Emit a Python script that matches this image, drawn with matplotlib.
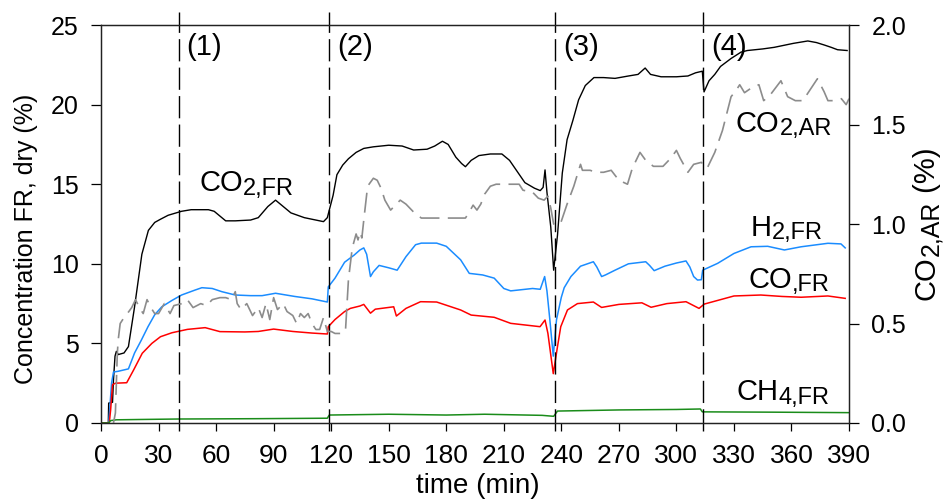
import matplotlib
matplotlib.use('Agg')
import matplotlib.pyplot as plt
from matplotlib.transforms import IdentityTransform

plt.rcParams['font.family'] = ['Liberation Sans', 'DejaVu Sans']

# time (min) and values
co2_fr_t = [0, 3.8, 4, 6, 6.5, 7.3, 8, 9, 12, 14.3, 17.5, 21.3, 24.7, 28, 31, 35, 42, 47, 56, 59, 62, 65,
            70, 78, 82, 87, 91, 94, 99, 106, 112, 116, 118, 119.5, 121, 123, 126, 129, 133, 137, 142, 150,
            157, 163, 170, 174, 178, 181, 185, 188, 190, 193, 197, 203, 209, 213, 217, 221, 226, 229, 230.5,
            231.5, 232.5, 234.5, 236, 238, 240.5, 243, 246, 249, 252.5, 257, 262, 268, 275, 280, 283.7,
            286.5, 292, 300, 306, 310, 313.5, 314.4, 317, 320, 323, 328.5, 333.7, 337, 345, 351, 361,
            368.5, 373, 377, 380.7, 384, 389]
co2_fr = [0, 0, 1.25, 1.3, 2.7, 4.2, 4.5, 4.3, 4.4, 4.8, 7.3, 10.6, 12.1, 12.6, 12.8, 13.05, 13.3, 13.4, 13.4,
          13.3, 13.0, 12.7, 12.7, 12.75, 12.9, 13.6, 14.0, 13.7, 13.2, 12.9, 12.75, 12.65, 12.9, 13.6, 14.3,
          15.6, 16.2, 16.6, 17.0, 17.25, 17.35, 17.45, 17.4, 17.15, 17.2, 17.4, 17.7, 17.5, 16.7, 16.3, 16.1,
          16.5, 16.8, 16.9, 16.9, 16.5, 15.8, 15.1, 14.75, 14.6, 14.8, 15.9, 14.5, 12.3, 9.6, 11.8, 15.7,
          17.8, 19.0, 20.3, 21.2, 21.7, 21.7, 21.65, 21.8, 21.9, 22.3, 21.9, 21.75, 21.75, 21.8, 22.0, 22.1,
          20.8, 21.5, 21.9, 22.4, 22.9, 23.3, 23.4, 23.5, 23.6, 23.85, 24.0, 23.9, 23.75, 23.6, 23.45, 23.4]

h2_fr_t = [0, 4, 4.5, 5.5, 6.5, 9, 14.3, 17.5, 21, 24.5, 28, 31.7, 37, 42, 49, 52.6, 58, 63, 70, 78, 84, 91,
           101, 110, 118, 118.5, 122, 127, 132, 135, 137, 138.5, 140.5, 142, 145, 150, 154.4, 159, 164, 167,
           175, 180, 187.5, 192, 199, 205, 210, 213.6, 225, 229, 231.3, 232.5, 234, 235.8, 237.5, 240,
           241.5, 245, 250, 256.7, 258.5, 261, 263, 268, 275, 284, 286, 288.4, 294, 300, 305, 307, 309, 311,
           313, 313.7, 321.5, 330, 338.9, 347.6, 356.3, 365, 379, 385.8, 388]
h2_fr = [0, 0, 0.8, 2.5, 3.2, 3.25, 3.4, 4.4, 5.2, 6.05, 6.8, 7.3, 7.7, 8.04, 8.35, 8.5, 8.45, 8.25, 8.04, 8.0,
         8.0, 8.15, 7.95, 7.8, 7.6, 8.55, 9.1, 10.1, 10.55, 10.87, 11.0, 10.6, 9.2, 9.5, 9.9, 9.75, 9.6, 10.45,
         11.2, 11.3, 11.3, 11.1, 10.25, 9.4, 9.3, 9.1, 8.45, 8.3, 8.45, 8.4, 9.2, 8.3, 6.5, 4.2, 6.5, 7.9,
         8.5, 9.2, 9.85, 10.13, 9.8, 9.2, 9.3, 9.6, 10.0, 10.13, 9.9, 9.57, 9.85, 10.05, 10.18, 9.8, 9.2,
         8.98, 9.0, 9.6, 10.03, 10.65, 11.07, 11.1, 10.87, 11.07, 11.29, 11.25, 11.0]

co_fr_t = [0, 4.3, 5, 6, 7.5, 13.4, 17, 21.5, 26.5, 31, 37, 45, 54.3, 62, 75, 82, 90, 100, 110, 118, 118.5,
           122, 127, 130, 135, 137, 140.5, 143, 152.6, 154, 159, 166.6, 175, 187.5, 193, 205, 213.6, 228.9,
           231.5, 233, 235.8, 238, 239.7, 243.2, 248.4, 256.7, 261, 270, 282, 286.8, 295, 305, 311.8, 314.5,
           321.5, 330, 344, 355, 365, 379, 388]
co_fr = [0, 0, 0.8, 2.4, 2.5, 2.53, 3.33, 4.38, 5.0, 5.42, 5.67, 5.88, 5.99, 5.74, 5.72, 5.75, 5.9, 5.75, 5.65,
         5.59, 6.05, 6.5, 7.0, 7.2, 7.35, 7.45, 6.9, 7.15, 7.3, 6.72, 7.2, 7.62, 7.6, 7.1, 6.78, 6.64, 6.26,
         6.05, 6.47, 5.63, 3.1, 4.8, 6.05, 7.1, 7.5, 7.6, 7.26, 7.45, 7.55, 7.27, 7.5, 7.62, 7.2, 7.47, 7.7,
         7.98, 8.04, 7.95, 7.9, 7.98, 7.83]

ch4_fr_t = [0, 4, 5, 8, 20, 40, 80, 118, 119, 150, 180, 200, 230, 236, 238, 270, 300, 312.5, 313.5, 350, 390]
ch4_fr = [0, 0, 0.15, 0.2, 0.22, 0.25, 0.27, 0.3, 0.5, 0.55, 0.5, 0.55, 0.48, 0.42, 0.75, 0.82, 0.85, 0.88,
          0.7, 0.68, 0.65]

co2_ar_t = [6.5, 7.5, 8.5, 9, 10, 12, 14.5, 16, 18, 20, 22, 24, 26, 28, 30, 33, 36, 38, 42, 45, 48, 52, 55,
            58, 62, 65, 68, 70, 71, 73, 76, 79, 82, 84, 86, 88, 90, 92, 95, 97, 100, 102, 104, 106, 108, 110,
            112, 114, 116, 118, 120, 122, 126, 127.5, 129, 131, 133, 134, 135, 136, 137, 139, 142, 144, 146,
            148, 151, 153, 156, 159, 163, 167, 175, 190, 192, 194, 196, 198, 200, 203, 206, 218, 220, 225,
            228, 231, 233, 234.5, 236, 239.5, 243, 246.5, 250, 251, 255, 258, 262, 266, 270, 274.5, 277,
            281, 284, 288, 293, 297, 300, 302, 306, 309, 313, 316, 320, 324, 328.5, 331, 333, 335.5, 340,
            343, 345.5, 349, 354.5, 358, 362, 366, 368, 373.5, 377, 379, 383, 386, 388.5, 390]
co2_ar = [0.0, 0.05, 0.35, 0.42, 0.5, 0.53, 0.56, 0.58, 0.62, 0.58, 0.55, 0.62, 0.58, 0.55, 0.55, 0.6, 0.55,
          0.59, 0.6, 0.62, 0.58, 0.6, 0.59, 0.62, 0.63, 0.63, 0.62, 0.66, 0.6, 0.57, 0.6, 0.54, 0.58, 0.53,
          0.6, 0.52, 0.63, 0.57, 0.6, 0.56, 0.54, 0.5, 0.55, 0.53, 0.55, 0.5, 0.47, 0.47, 0.53, 0.46, 0.46,
          0.45, 0.45, 0.47, 0.72, 0.88, 0.95, 0.92, 0.96, 0.93, 1.02, 1.19, 1.23, 1.22, 1.18, 1.12, 1.07, 1.09,
          1.12, 1.1, 1.06, 1.03, 1.03, 1.03, 1.06, 1.095, 1.07, 1.1, 1.15, 1.19, 1.2, 1.2, 1.17, 1.16, 1.13,
          1.12, 1.14, 1.08, 1.0, 1.0, 1.1, 1.19, 1.3, 1.27, 1.27, 1.26, 1.26, 1.27, 1.22, 1.2, 1.28, 1.36,
          1.32, 1.29, 1.29, 1.33, 1.37, 1.33, 1.26, 1.3, 1.31, 1.28, 1.36, 1.47, 1.64, 1.67, 1.7, 1.66, 1.69,
          1.7, 1.62, 1.65, 1.72, 1.64, 1.62, 1.62, 1.65, 1.73, 1.665, 1.62, 1.62, 1.63, 1.6, 1.63]

phase_starts = [40.7, 118.9, 236.6, 314.0]
phase_names = ['(1)', '(2)', '(3)', '(4)']
phase_label_t = [44.4, 123.0, 241.1, 318.0]

x_ticks = list(range(0, 391, 30))
y_ticks = [0, 5, 10, 15, 20, 25]
y2_ticks = [0.0, 0.5, 1.0, 1.5, 2.0]

fig = plt.figure(figsize=(9.44, 5.01), dpi=100)
ax = fig.add_axes([0.107, 0.1557, 0.7924, 0.7943])
ax2 = ax.twinx()

ax.plot(co2_fr_t, co2_fr, color='black', lw=1.0)
ax.plot(h2_fr_t, h2_fr, color='#1a8cff', lw=1.1)
ax.plot(co_fr_t, co_fr, color='#ff0000', lw=1.1)
ax.plot(ch4_fr_t, ch4_fr, color='#1a8c1a', lw=1.1)
ax2.plot(co2_ar_t, co2_ar, color='#8c8c8c', lw=1.2, dashes=(12, 5))

for t in phase_starts:
    ax.axvline(t, ymin=-0.02, ymax=1.033, clip_on=False, color='black', lw=1.0, dashes=(16, 4.5))
for t, name in zip(phase_label_t, phase_names):
    ax.text(t, 23.1, name, fontsize=21, va='baseline', ha='left')

ax.set_xlim(0, 390)
ax.set_ylim(0, 25)
ax2.set_ylim(0, 2.0)
ax.set_xticks(x_ticks)
ax.set_yticks(y_ticks)
ax2.set_yticks(y2_ticks)
ax2.set_yticklabels(['%.1f' % v for v in y2_ticks])

for a in (ax, ax2):
    for s in a.spines.values():
        s.set_linewidth(0.9)
        s.set_color('#222222')
ax.tick_params(axis='x', direction='out', length=6, width=0.9, labelsize=19, pad=9)
ax.tick_params(axis='y', direction='out', length=7, width=0.9, labelsize=18, pad=9)
ax2.tick_params(axis='y', direction='out', length=7, width=0.9, labelsize=18, pad=9)

ident = IdentityTransform()
fig.canvas.draw()
renderer = fig.canvas.get_renderer()


def sub_label(x, y, main, sub, tail='', size=21, subsize=17, drop=3.5, rot=0):
    """ main text followed by a lowered, smaller part; x, y in pixels """
    kw = dict(transform=ident, ha='left', va='baseline', rotation=rot, rotation_mode='anchor')
    t1 = fig.text(x, y, main, fontsize=size, **kw)
    bb = t1.get_window_extent(renderer)
    if rot == 0:
        t2 = fig.text(bb.x1, y - drop, sub, fontsize=subsize, **kw)
        bb = t2.get_window_extent(renderer)
        if tail:
            fig.text(bb.x1, y, tail, fontsize=size, **kw)
    else:
        t2 = fig.text(x + drop, bb.y1, sub, fontsize=subsize, **kw)
        bb = t2.get_window_extent(renderer)
        if tail:
            fig.text(x, bb.y1, tail, fontsize=size, **kw)


def data_label(t, v, main, sub):
    x, y = ax.transData.transform((t, v))
    sub_label(x, y, main, sub)


data_label(51.3, 14.56, 'CO', '2,FR')
data_label(331.0, 18.3, 'CO', '2,AR')
data_label(338.6, 11.75, 'H', '2,FR')
data_label(337.5, 8.51, 'CO', ',FR')
data_label(331.2, 1.44, 'CH', '4,FR')

# axis titles
fig.text(33, 262, 'Concentration FR, dry (%)', transform=ident, fontsize=18, rotation=90,
         rotation_mode='anchor', ha='center', va='baseline')
sub_label(935, 201, 'CO', '2,AR', ' (%)', size=21, subsize=18, rot=90)
fig.text(478, 8, 'time (min)', transform=ident, fontsize=20, ha='center', va='baseline')

fig.savefig('out.png', dpi=100)
